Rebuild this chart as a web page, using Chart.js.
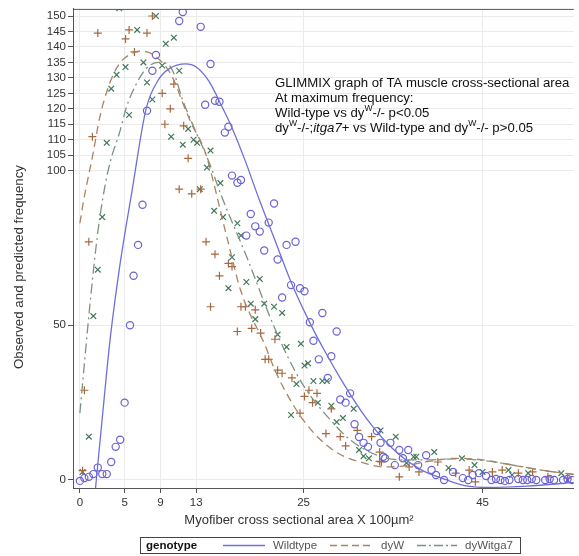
<!DOCTYPE html>
<html>
<head>
<meta charset="utf-8">
<script src="https://cdn.jsdelivr.net/npm/chart.js@4.4.1/dist/chart.umd.min.js"></script>
<style>
  html, body { margin: 0; padding: 0; background: #fff; }
  #wrap { width: 579px; height: 556px; }
</style>
</head>
<body>
<div id="wrap"><canvas id="glimmixChart" width="579" height="556"></canvas></div>
<script>
// tick labels
const xTicks = [0, 5, 9, 13, 25, 45];
const yTicks = [0, 50, 100, 105, 110, 115, 120, 125, 130, 135, 140, 145, 150];

// observed frequencies - Wildtype (circles)
const wtObsX = [0,0.5,1,1.5,2,2.5,3,3.5,4,4.5,5,5.6,6,6.5,7,7.5,8.1,8.5,11.1,11.5,13.5,14,14.6,15.1,15.6,16.2,16.6,17,17.6,18,18.6,19.1,19.6,20.1,20.6,21.1,21.7,22.1,22.6,23.1,23.6,24.1,24.6,25.1,25.7,26.1,26.7,27.1,27.7,28.1,28.7,29.1,29.7,30.2,30.7,31.2,31.7,32.2,33.2,33.6,33.9,34.1,34.7,35.2,35.7,36.1,36.7,37.8,38.7,39.3,39.8,40.7,41.7,42.8,43.4,43.9,44.6,45.4,46,46.5,47,47.5,48,49,49.5,50,50.5,51,52,52.5,53,54,54.5,55];
const wtObsY = [-0.3,0.6,1,1.9,4,1.9,1.9,5.8,10.7,13,25,50,66,76,89,119.4,132.3,137.4,148.4,151.3,146.5,121.3,134.5,122.6,122.3,112.3,114.2,98.4,96.1,97,79,86,82,80.3,74.2,83.2,89.4,71.3,59,76,63,77,62,61,51,45,39,54,33,40,48,26,25,28,18,13.9,12,10.7,15.8,12,7.5,7,12,4.8,9.7,7,9.7,4.8,8,3.2,1.6,0,2.6,0.6,0,1.6,2.2,1.3,0,0.3,0,-0.3,0,0.3,0,0,0.3,0,0,0.3,0,0,0.3,0];

// observed - dyW (plus)
const dywObsX = [0.3,0.5,1,1.4,2,5.1,5.5,6.1,7.5,8.1,9.2,9.5,10.1,10.5,11.1,11.6,12.1,12.5,13.5,14.1,14.6,15.1,15.6,16.6,17,17.6,18,18.5,19.2,19.6,20.2,20.7,21.1,21.8,22.1,22.6,23.7,24.6,25.1,25.6,26,26.5,27.5,28.1,29.1,29.7,31,32.6,33.5,33.5,33.7,35.7,36.8,37.9,40,42,43.5,44.2,46.1,47.2,49,50.6,52.3,54.5];
const dywObsY = [3,29,77,111,144.5,142.6,145.5,138.4,144.5,150,125,115,120,128,94,114.5,104,92.5,94,77,56,73,66,70,69,48,56,56,49,55,47.5,39,39,45.5,35.5,34.5,33,21.6,27,29,25,28,15,23,14,11,16,14,6,9,5.8,1,4.2,2.6,5.8,2.2,3.2,-0.6,2.6,3.2,2.2,2.6,1,0.6];

// observed - dyWitga7 (x)
const itgObsX = [0.3,1,1.5,2,2.5,3,3.5,4.1,4.4,5.1,5.5,6.4,7.1,7.5,8.1,8.5,9.2,9.6,10.2,10.5,11.1,11.5,12.1,12.7,13.1,13.4,14.2,14.6,15,15.7,16,16.6,17,17.6,18,18.6,19.1,19.6,20.1,20.6,21.7,22.1,22.6,23.1,23.6,24.2,24.7,25.1,25.5,26.1,26.6,27.1,27.6,28.1,28.7,29.4,30.6,31.2,31.7,32.3,33.6,35.3,36.5,37.3,37.6,39.6,41.2,42.7,44.1,45,47.9,48.3,50.1,53.8];
const itgObsY = [2.6,14,53,68,85,109,126.5,131,152.5,133.5,118,145.5,135,128.5,123,150,134,141,111,143,132.3,108.4,113.5,110,109,94,101,106.5,87,96,85,62,72,83,79,64,57,52,65,57,56,47,54,43,21,31,44,37,37.7,32,25,32,32,24,18.7,20,23,9.7,7.7,7,16,14,5.5,7.5,7.5,9,3.9,7,4.8,2.6,3.2,1.6,2.2,2.2];

// predicted curves
const wtFitX = [1.75,2.9,3.4,4.5,5.8,7.4,8.8,10,11.8,13,14.4,16,16.9,18.5,20,22,23.6,25.5,27.3,29.5,32,35,38,41,43,46,50,55.2];
const wtFitY = [-2.6,32,46,70,93,120,129.5,133,134.5,133.5,129,120,114.5,103,91,76,64,52,42,31,20,10,3.5,0,-1.8,-2.4,-2,-0.8];
const dywFitX = [0,0.4,1.5,2.2,3.3,4.4,5.9,6.8,8.1,9.2,10,10.7,11.4,12.5,14,16.3,18,20.7,21.8,24,26.2,28.8,31.7,34,36,39,42,45,48,52,55.2];
const dywFitY = [83,90,106,117,128,134.5,138,138.7,137.7,135,132,128,122.6,115,106,80,61,43.5,35.5,23.5,15,8.7,5.5,4.2,4.5,6,7,6.5,5,3,1.8];
const itgFitX = [0,1.1,2,2.8,3.5,4.4,5.2,6.3,7.4,8.8,10,10.7,11.4,12.9,14.4,15.8,18.8,21.4,23.2,25.1,28,30.2,33.2,36,39,42,45,48,52,55.2];
const itgFitY = [21.6,56,80,95,104,112,120.5,128,133,135,134,130,123.5,113,103,92,71,51.6,40,30,19.4,13,8,6.5,6.5,6.8,6.3,5,3,1.8];

const BLUE = '#6A62D4', BLUE_LINE = '#6F6FDA';
const BROWN = '#A8683E', BROWN_LINE = '#A98463';
const GREEN = '#40795A', GREEN_LINE = '#7C927E';
const FONT = '"Liberation Sans", Arial, sans-serif';

const pts = (xs, ys) => xs.map((x, i) => ({ x: x, y: ys[i] }));

function fitLine(xs, ys, color, dash) {
    return {
        data: pts(xs, ys), showLine: true, borderColor: color, borderWidth: 1.3,
        borderDash: dash, pointRadius: 0, cubicInterpolationMode: 'monotone', clip: 0
    };
}
function observed(xs, ys, color, style, r) {
    return {
        data: pts(xs, ys), showLine: false, pointStyle: style, pointRadius: r,
        borderColor: color, backgroundColor: 'rgba(0,0,0,0)', pointBorderWidth: 1.2, clip: 0
    };
}

// draws text runs with superscript / italic parts
function runs(ctx, x, y, parts, size) {
    parts.forEach(p => {
        const s = p.sup ? size * 0.65 : size;
        ctx.font = (p.it ? 'italic ' : '') + s + 'px ' + FONT;
        ctx.fillText(p.t, x, p.sup ? y - size * 0.35 : y);
        x += ctx.measureText(p.t).width;
    });
}

const decor = {
    id: 'decor',
    afterDraw(chart) {
        const ctx = chart.ctx, a = chart.chartArea;
        ctx.save();
        // top frame
        ctx.strokeStyle = '#555'; ctx.lineWidth = 1;
        ctx.beginPath(); ctx.moveTo(a.left, a.top + 0.5); ctx.lineTo(a.right, a.top + 0.5); ctx.stroke();

        // annotation
        ctx.fillStyle = '#111'; ctx.textBaseline = 'middle'; ctx.textAlign = 'left';
        const fs = 13.2, tx = 275;
        runs(ctx, tx, 83, [{ t: 'GLIMMIX graph of TA muscle cross-sectional area' }], fs);
        runs(ctx, tx, 98, [{ t: 'At maximum frequency:' }], fs);
        runs(ctx, tx, 113, [{ t: 'Wild-type vs dy' }, { t: 'W', sup: 1 }, { t: '-/- p<0.05' }], fs);
        runs(ctx, tx, 128, [{ t: 'dy' }, { t: 'W', sup: 1 }, { t: '-/-;' }, { t: 'itga7', it: 1 },
            { t: '+ vs Wild-type and dy' }, { t: 'W', sup: 1 }, { t: '-/- p>0.05' }], fs);

        // axis titles
        ctx.fillStyle = '#333'; ctx.textAlign = 'center';
        ctx.font = '13px ' + FONT;
        ctx.fillText('Myofiber cross sectional area X 100\u00b5m\u00b2', 299, 520);
        ctx.save();
        ctx.translate(19, 267); ctx.rotate(-Math.PI / 2);
        ctx.font = '13.3px ' + FONT;
        ctx.fillText('Observed and predicted frequency', 0, 0);
        ctx.restore();

        // legend box
        ctx.strokeStyle = '#444'; ctx.lineWidth = 1;
        ctx.strokeRect(140.5, 537.5, 380, 16);
        ctx.textAlign = 'left';
        ctx.font = 'bold 11.5px ' + FONT; ctx.fillStyle = '#111';
        ctx.fillText('genotype', 146, 546);
        ctx.font = '11.5px ' + FONT; ctx.fillStyle = '#555';
        const items = [
            { x0: 223, x1: 265, tx: 273, c: BLUE_LINE, d: [], label: 'Wildtype' },
            { x0: 330, x1: 373, tx: 381, c: BROWN_LINE, d: [7, 4], label: 'dyW' },
            { x0: 417, x1: 457, tx: 465, c: GREEN_LINE, d: [9, 3, 2, 3], label: 'dyWitga7' }
        ];
        items.forEach(it => {
            ctx.strokeStyle = it.c; ctx.lineWidth = 1.3; ctx.setLineDash(it.d);
            ctx.beginPath(); ctx.moveTo(it.x0, 545.5); ctx.lineTo(it.x1, 545.5); ctx.stroke();
            ctx.setLineDash([]);
            ctx.fillText(it.label, it.tx, 546);
        });
        ctx.restore();
    }
};

Chart.defaults.font.family = FONT;

new Chart(document.getElementById('glimmixChart'), {
    type: 'scatter',
    data: {
        datasets: [
            fitLine(wtFitX, wtFitY, BLUE_LINE, []),
            fitLine(dywFitX, dywFitY, BROWN_LINE, [8, 5]),
            fitLine(itgFitX, itgFitY, GREEN_LINE, [10, 4, 2, 4]),
            observed(wtObsX, wtObsY, BLUE, 'circle', 3.6),
            observed(dywObsX, dywObsY, BROWN, 'cross', 4),
            observed(itgObsX, itgObsY, GREEN, 'crossRot', 4)
        ]
    },
    options: {
        responsive: false,
        animation: false,
        layout: { padding: { top: 8, right: 0, bottom: 0, left: 0 } },
        plugins: { legend: { display: false }, tooltip: { enabled: false } },
        scales: {
            x: {
                type: 'linear', min: -0.77, max: 55.2,
                afterBuildTicks: s => { s.ticks = xTicks.map(v => ({ value: v })); },
                afterFit: s => { s.height = 68; },
                grid: { color: '#ebebeb', tickColor: '#555', tickLength: 5 },
                border: { color: '#555' },
                ticks: { color: '#333', font: { size: 11.5 }, padding: 3, maxRotation: 0 }
            },
            y: {
                type: 'linear', min: -2.6, max: 152.3,
                afterBuildTicks: s => { s.ticks = yTicks.map(v => ({ value: v })); },
                afterFit: s => { s.width = 73; },
                grid: { color: '#ebebeb', tickColor: '#555', tickLength: 5 },
                border: { color: '#555' },
                ticks: { color: '#333', font: { size: 11.5 }, padding: 2 }
            }
        }
    },
    plugins: [decor]
});
</script>
</body>
</html>
